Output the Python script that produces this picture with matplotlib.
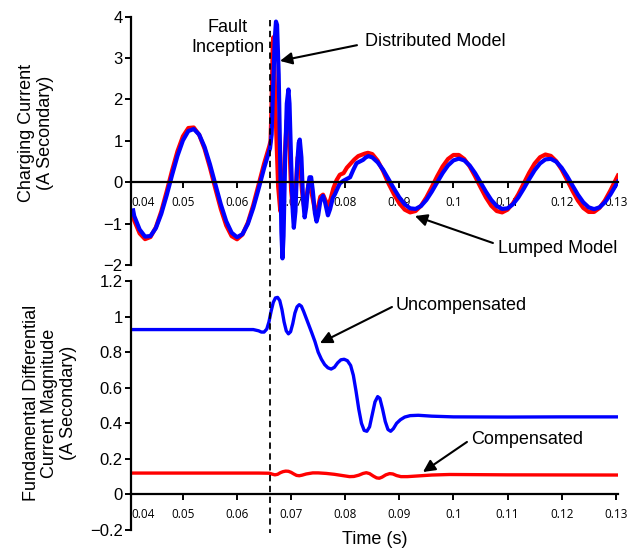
import matplotlib
matplotlib.use('Agg')
import matplotlib.pyplot as plt
from matplotlib.lines import Line2D
import numpy as np

plt.rcParams['font.family'] = ['Liberation Sans', 'DejaVu Sans']

# ---- charging current, distributed model (blue) ----
t_dist = [0.0408, 0.041, 0.042, 0.043, 0.044, 0.045, 0.046, 0.047, 0.048, 0.049,
          0.050, 0.051, 0.052, 0.053, 0.054, 0.055, 0.056, 0.057, 0.058, 0.059,
          0.060, 0.061, 0.062, 0.063, 0.064, 0.065, 0.066,
          0.0661, 0.0664, 0.0667, 0.0670, 0.0672, 0.0674, 0.0677, 0.0680, 0.0682, 0.0684,
          0.0686, 0.0689, 0.0692, 0.0695, 0.0697, 0.0700, 0.0703, 0.0705, 0.0708, 0.0711,
          0.0714, 0.0716, 0.0719, 0.0722, 0.0725, 0.0728, 0.0731, 0.0734, 0.0737, 0.0740,
          0.0744, 0.0747, 0.0750, 0.0754, 0.0759, 0.0763, 0.0768, 0.0772, 0.0777, 0.0781,
          0.0785, 0.0790, 0.0796, 0.0803, 0.0809, 0.0815, 0.0821, 0.0827, 0.0833, 0.0838,
          0.0843,
          0.085, 0.086, 0.087, 0.088, 0.089, 0.090, 0.091, 0.092, 0.093, 0.094,
          0.095, 0.096, 0.097, 0.098, 0.099, 0.100, 0.101, 0.102, 0.103, 0.104,
          0.105, 0.106, 0.107, 0.108, 0.109, 0.110, 0.111, 0.112, 0.113, 0.114,
          0.115, 0.116, 0.117, 0.118, 0.119, 0.120, 0.121, 0.122, 0.123, 0.124,
          0.125, 0.126, 0.127, 0.128, 0.129, 0.130, 0.1304]
i_dist = [-0.68, -0.816, -1.143, -1.313, -1.300, -1.108, -0.763, -0.314, 0.177, 0.640,
          1.010, 1.236, 1.285, 1.151, 0.852, 0.431, -0.053, -0.533, -0.941, -1.219,
          -1.329, -1.255, -1.007, -0.622, -0.152, 0.338, 0.777,
          0.82, 1.15, 2.4, 3.5, 3.88, 3.8, 2.6, 0.4, -1.2, -1.84,
          -1.3, 0.6, 1.9, 2.24, 1.9, 0.5, -0.7, -1.1, -0.7, 0.4,
          0.95, 1.03, 0.6, -0.4, -0.85, -0.6, -0.15, 0.12, 0.12, -0.2,
          -0.75, -0.95, -0.8, -0.45, -0.33, -0.5, -0.8, -0.65, -0.38, -0.29,
          -0.17, -0.03, 0.03, 0.08, 0.12, 0.3, 0.46, 0.5, 0.54, 0.6,
          0.63,
          0.60, 0.48, 0.30, 0.074, -0.154, -0.367, -0.533, -0.631, -0.645, -0.575,
          -0.429, -0.228, -0.002, 0.220, 0.405, 0.527, 0.570, 0.527, 0.405, 0.220,
          -0.002, -0.228, -0.429, -0.575, -0.645, -0.631, -0.533, -0.367, -0.154, 0.074,
          0.287, 0.453, 0.551, 0.565, 0.495, 0.349, 0.148, -0.078, -0.300, -0.485,
          -0.607, -0.650, -0.607, -0.485, -0.300, -0.078, 0.013]

# ---- charging current, lumped model (red) ----
t_lump = [0.0408, 0.041, 0.042, 0.043, 0.044, 0.045, 0.046, 0.047, 0.048, 0.049,
          0.050, 0.051, 0.052, 0.053, 0.054, 0.055, 0.056, 0.057, 0.058, 0.059,
          0.060, 0.061, 0.062, 0.063, 0.064, 0.065, 0.066,
          0.0662, 0.0664, 0.0666, 0.0667, 0.0669, 0.0672, 0.0676, 0.0680, 0.0684, 0.0688,
          0.0692, 0.0696, 0.0700, 0.0704, 0.0708, 0.0712, 0.0716, 0.0720, 0.0724, 0.0728,
          0.0732, 0.0736, 0.0740, 0.0745, 0.0749, 0.0754, 0.0759, 0.0764, 0.0768, 0.0773,
          0.0778, 0.0784, 0.0790, 0.0797, 0.0803, 0.0810, 0.0817, 0.0824, 0.0830, 0.0836,
          0.0842,
          0.085, 0.086, 0.087, 0.088, 0.089, 0.090, 0.091, 0.092, 0.093, 0.094,
          0.095, 0.096, 0.097, 0.098, 0.099, 0.100, 0.101, 0.102, 0.103, 0.104,
          0.105, 0.106, 0.107, 0.108, 0.109, 0.110, 0.111, 0.112, 0.113, 0.114,
          0.115, 0.116, 0.117, 0.118, 0.119, 0.120, 0.121, 0.122, 0.123, 0.124,
          0.125, 0.126, 0.127, 0.128, 0.129, 0.130, 0.1304]
i_lump = [-0.80, -0.926, -1.236, -1.375, -1.324, -1.089, -0.705, -0.224, 0.285, 0.751,
          1.109, 1.309, 1.322, 1.146, 0.807, 0.351, -0.157, -0.645, -1.045, -1.302,
          -1.379, -1.265, -0.976, -0.552, -0.054, 0.449, 0.886,
          1.0, 2.0, 3.3, 3.5, 2.8, 1.4, -0.1, -0.7, -0.6, 0.6,
          1.5, 1.2, -0.2, -0.7, -0.3, 0.6, 0.6, -0.2, -0.6, -0.4,
          -0.05, -0.15, -0.4, -0.75, -0.65, -0.35, -0.3, -0.45, -0.6, -0.4,
          -0.15, 0.05, 0.18, 0.22, 0.35, 0.45, 0.55, 0.63, 0.66, 0.69,
          0.71,
          0.68, 0.52, 0.27, -0.030, -0.288, -0.509, -0.663, -0.729, -0.696, -0.569,
          -0.367, -0.118, 0.144, 0.381, 0.561, 0.658, 0.658, 0.561, 0.381, 0.144,
          -0.118, -0.367, -0.569, -0.696, -0.729, -0.663, -0.509, -0.288, -0.030, 0.228,
          0.449, 0.603, 0.669, 0.636, 0.509, 0.307, 0.058, -0.204, -0.441, -0.621,
          -0.718, -0.718, -0.621, -0.441, -0.204, 0.058, 0.161]

# ---- fundamental differential current magnitude ----
t_unc = [0.0408, 0.0600, 0.0630, 0.0640, 0.0645, 0.0650, 0.0655, 0.0659, 0.0663, 0.0667,
         0.0671, 0.0675, 0.0679, 0.0683, 0.0687, 0.0691, 0.0695, 0.0699, 0.0703, 0.0707,
         0.0711, 0.0715, 0.0719, 0.0723, 0.0728, 0.0733, 0.0738, 0.0744, 0.0750, 0.0756,
         0.0762, 0.0768, 0.0774, 0.0780, 0.0786, 0.0792, 0.0798, 0.0804, 0.0810, 0.0815,
         0.0820, 0.0825, 0.0830, 0.0835, 0.0840, 0.0845, 0.0850, 0.0855, 0.0860, 0.0864,
         0.0869, 0.0874, 0.0879, 0.0884, 0.0889, 0.0895, 0.0902, 0.0910, 0.0920, 0.0935,
         0.0960, 0.1000, 0.1100, 0.1200, 0.1304]
i_unc = [0.927, 0.927, 0.927, 0.92, 0.913, 0.913, 0.93, 0.97, 1.03, 1.08,
         1.105, 1.108, 1.09, 1.04, 0.97, 0.92, 0.903, 0.915, 0.96, 1.02,
         1.055, 1.067, 1.058, 1.03, 0.99, 0.95, 0.91, 0.86, 0.80, 0.76,
         0.73, 0.712, 0.705, 0.715, 0.74, 0.757, 0.76, 0.752, 0.725, 0.67,
         0.58, 0.48, 0.40, 0.36, 0.355, 0.38, 0.45, 0.52, 0.55, 0.54,
         0.48, 0.41, 0.365, 0.355, 0.37, 0.40, 0.42, 0.435, 0.443, 0.445,
         0.44, 0.436, 0.435, 0.436, 0.436]

t_comp = [0.0408, 0.0640, 0.0660, 0.0665, 0.0670, 0.0675, 0.0680, 0.0685, 0.0690, 0.0695,
          0.0700, 0.0705, 0.0710, 0.0715, 0.0720, 0.0728, 0.0740, 0.0750, 0.0765, 0.0780,
          0.0795, 0.0808, 0.0816, 0.0825, 0.0833, 0.0839, 0.0845, 0.0852, 0.0858, 0.0863,
          0.0868, 0.0875, 0.0882, 0.0888, 0.0895, 0.0903, 0.0915, 0.0935, 0.0960, 0.0993,
          0.1100, 0.1304]
i_comp = [0.12, 0.12, 0.119, 0.114, 0.11, 0.113, 0.122, 0.128, 0.131, 0.13,
          0.124, 0.115, 0.107, 0.105, 0.108, 0.115, 0.121, 0.121, 0.118, 0.113,
          0.106, 0.100, 0.101, 0.108, 0.118, 0.122, 0.117, 0.103, 0.093, 0.091,
          0.097, 0.110, 0.117, 0.115, 0.106, 0.100, 0.100, 0.104, 0.109, 0.112,
          0.11, 0.109]

xticks = [0.0404, 0.05, 0.06, 0.07, 0.08, 0.09, 0.10, 0.11, 0.12, 0.13]
xticklabels = ['0.04', '0.05', '0.06', '0.07', '0.08', '0.09', '0.1', '0.11', '0.12', '0.13']
fault_t = 0.0661

RED = '#FF0000'
BLUE = '#0000FF'


def style_axis(ax, ylim, yticks, ytick_labels):
	ax.set_xlim(0.0404, 0.1304)
	ax.set_ylim(*ylim)
	ax.patch.set_alpha(0)
	for s in ['top', 'right']:
		ax.spines[s].set_visible(False)
	ax.spines['bottom'].set_position(('data', 0))
	ax.spines['left'].set_linewidth(1.6)
	ax.spines['bottom'].set_linewidth(1.6)
	ax.set_yticks(yticks)
	ax.set_yticklabels(ytick_labels)
	ax.set_xticks(xticks)
	ax.set_xticklabels(xticklabels, fontfamily='Open Sans')
	ax.get_xticklabels()[0].set_ha('left')
	ax.tick_params(axis='y', labelsize=12, width=1.4, length=4, pad=2)
	ax.tick_params(axis='x', labelsize=8.5, width=1.4, length=4, pad=6)


fig = plt.figure(figsize=(6.34, 5.52), dpi=100)
ax1 = fig.add_axes([0.2066, 0.5199, 0.768, 0.450])
ax2 = fig.add_axes([0.2066, 0.0399, 0.768, 0.451])

ax1.plot(t_lump, i_lump, color=RED, lw=3.0, solid_joinstyle='round')
ax1.plot(t_dist, i_dist, color=BLUE, lw=3.0, solid_joinstyle='round')
style_axis(ax1, (-2, 4), [-2, -1, 0, 1, 2, 3, 4],
           ['\u22122', '\u22121', '0', '1', '2', '3', '4'])

ax2.plot(t_unc, i_unc, color=BLUE, lw=2.4, solid_joinstyle='round')
ax2.plot(t_comp, i_comp, color=RED, lw=2.4, solid_joinstyle='round')
style_axis(ax2, (-0.2, 1.2), [-0.2, 0, 0.2, 0.4, 0.6, 0.8, 1.0, 1.2],
           ['\u22120.2', '0', '0.2', '0.4', '0.6', '0.8', '1', '1.2'])

arrow = dict(arrowstyle='-|>', color='black', lw=1.5, mutation_scale=18,
             shrinkA=0, shrinkB=0)

ax1.text(0.0583, 3.50, 'Fault\nInception', fontsize=13, ha='center', va='center',
         linespacing=1.25)
ax1.text(0.0837, 3.39, 'Distributed Model', fontsize=13, ha='left', va='center')
ax1.annotate('', xy=(0.06794, 2.93), xytext=(0.08217, 3.31), arrowprops=arrow)
ax1.text(0.1082, -1.59, 'Lumped Model', fontsize=13, ha='left', va='center')
ax1.annotate('', xy=(0.09289, -0.816), xytext=(0.1073, -1.468), arrowprops=arrow)

ax2.text(0.0894, 1.065, 'Uncompensated', fontsize=13, ha='left', va='center')
ax2.annotate('', xy=(0.07533, 0.851), xytext=(0.08864, 1.054), arrowprops=arrow)
ax2.text(0.1032, 0.306, 'Compensated', fontsize=13, ha='left', va='center')
ax2.annotate('', xy=(0.09437, 0.126), xytext=(0.1025, 0.295), arrowprops=arrow)

fig.text(36 / 634, 1 - 133 / 552, 'Charging Current\n(A Secondary)', fontsize=13,
         rotation=90, ha='center', va='center', multialignment='center', linespacing=1.2)
fig.text(50 / 634, 1 - 403 / 552, 'Fundamental Differential\nCurrent Magnitude\n(A Secondary)',
         fontsize=13, rotation=90, ha='center', va='center', multialignment='center',
         linespacing=1.15)
fig.text(375 / 634, 1 - 540 / 552, 'Time (s)', fontsize=13, ha='center', va='center')

# fault inception marker through both panels
xf = ax1.transData.transform((fault_t, 0))[0] / fig.bbox.width
fig.add_artist(Line2D([xf, xf], [1 - 20 / 552, 1 - 533 / 552], color='black', lw=1.3,
                      ls=(0, (3.5, 2.5)), zorder=5))

plt.savefig('out.png', dpi=100)
plt.close()
